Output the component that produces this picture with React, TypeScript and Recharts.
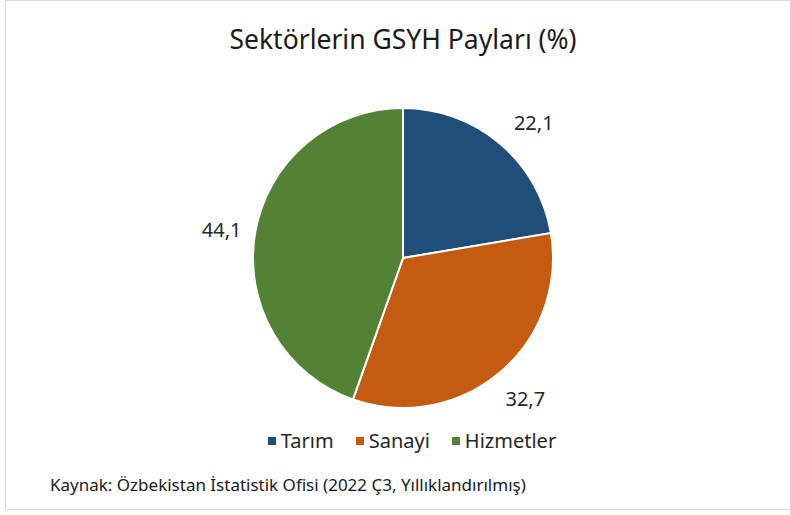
import React from 'react';
import { PieChart, Pie, Cell, Legend } from 'recharts';

const sectors = ['Tarım', 'Sanayi', 'Hizmetler'];
const shares = [22.1, 32.7, 44.1];
const colors = ['#1F4E79', '#C55A11', '#548235'];

const data = sectors.map((name, i) => ({ name, value: shares[i] }));

const FONT = '"Noto Sans", "Open Sans", sans-serif';
const RAD = Math.PI / 180;
// small nudges so labels sit where Excel's best-fit put them
const labelNudge = [[10, 7], [2, -3], [3, 3]];

const renderLabel = (props: any) => {
    const { cx, cy, midAngle, outerRadius, value, index } = props;
    const r = outerRadius + 37;
    const x = cx + r * Math.cos(-midAngle * RAD) + labelNudge[index][0];
    const y = cy + r * Math.sin(-midAngle * RAD) + labelNudge[index][1];
    return (
        <text x={x} y={y} fill="#262626" fontSize={20} fontFamily={FONT} textAnchor="middle" dominantBaseline="central">
            {String(value).replace('.', ',')}
        </text>
    );
};

const renderLegend = () => (
    <div style={{ display: 'flex', justifyContent: 'center', gap: 22, fontFamily: FONT, fontSize: 20, color: '#262626' }}>
        {sectors.map((s, i) => (
            <div key={s} style={{ display: 'flex', alignItems: 'center' }}>
                <span style={{ width: 8, height: 8, background: colors[i], display: 'inline-block', marginRight: 5 }} />
                <span>{s}</span>
            </div>
        ))}
    </div>
);

export default () => {
    return (
        <div style={{ position: 'absolute', left: 0, top: 0, width: 790, height: 515, background: '#fff' }}>
            <div style={{ position: 'absolute', left: 5, top: 0, width: 790, height: 510, border: '1px solid #d9d9d9', boxSizing: 'border-box' }} />
            <div style={{ position: 'absolute', left: 0, top: 21, width: 806, textAlign: 'center', fontFamily: FONT, fontSize: 26.5, color: '#1a1a1a' }}>
                Sektörlerin GSYH Payları (%)
            </div>
            <PieChart width={790} height={515} margin={{ top: 0, right: 0, bottom: 0, left: 0 }} style={{ position: 'absolute', left: 0, top: 0 }}>
                <Pie
                    data={data}
                    dataKey="value"
                    nameKey="name"
                    cx={403}
                    cy={258}
                    outerRadius={150}
                    startAngle={90}
                    endAngle={-270}
                    stroke="#fff"
                    strokeWidth={2}
                    label={renderLabel}
                    labelLine={false}
                    isAnimationActive={false}
                >
                    {data.map((d, i) => (
                        <Cell key={d.name} fill={colors[i]} />
                    ))}
                </Pie>
                <Legend content={renderLegend} wrapperStyle={{ position: 'absolute', left: 9, top: 427, width: 806 }} />
            </PieChart>
            <div style={{ position: 'absolute', left: 50, top: 473, fontFamily: FONT, fontSize: 17, color: '#1a1a1a' }}>
                Kaynak: Özbekistan İstatistik Ofisi (2022 Ç3, Yıllıklandırılmış)
            </div>
        </div>
    );
};
